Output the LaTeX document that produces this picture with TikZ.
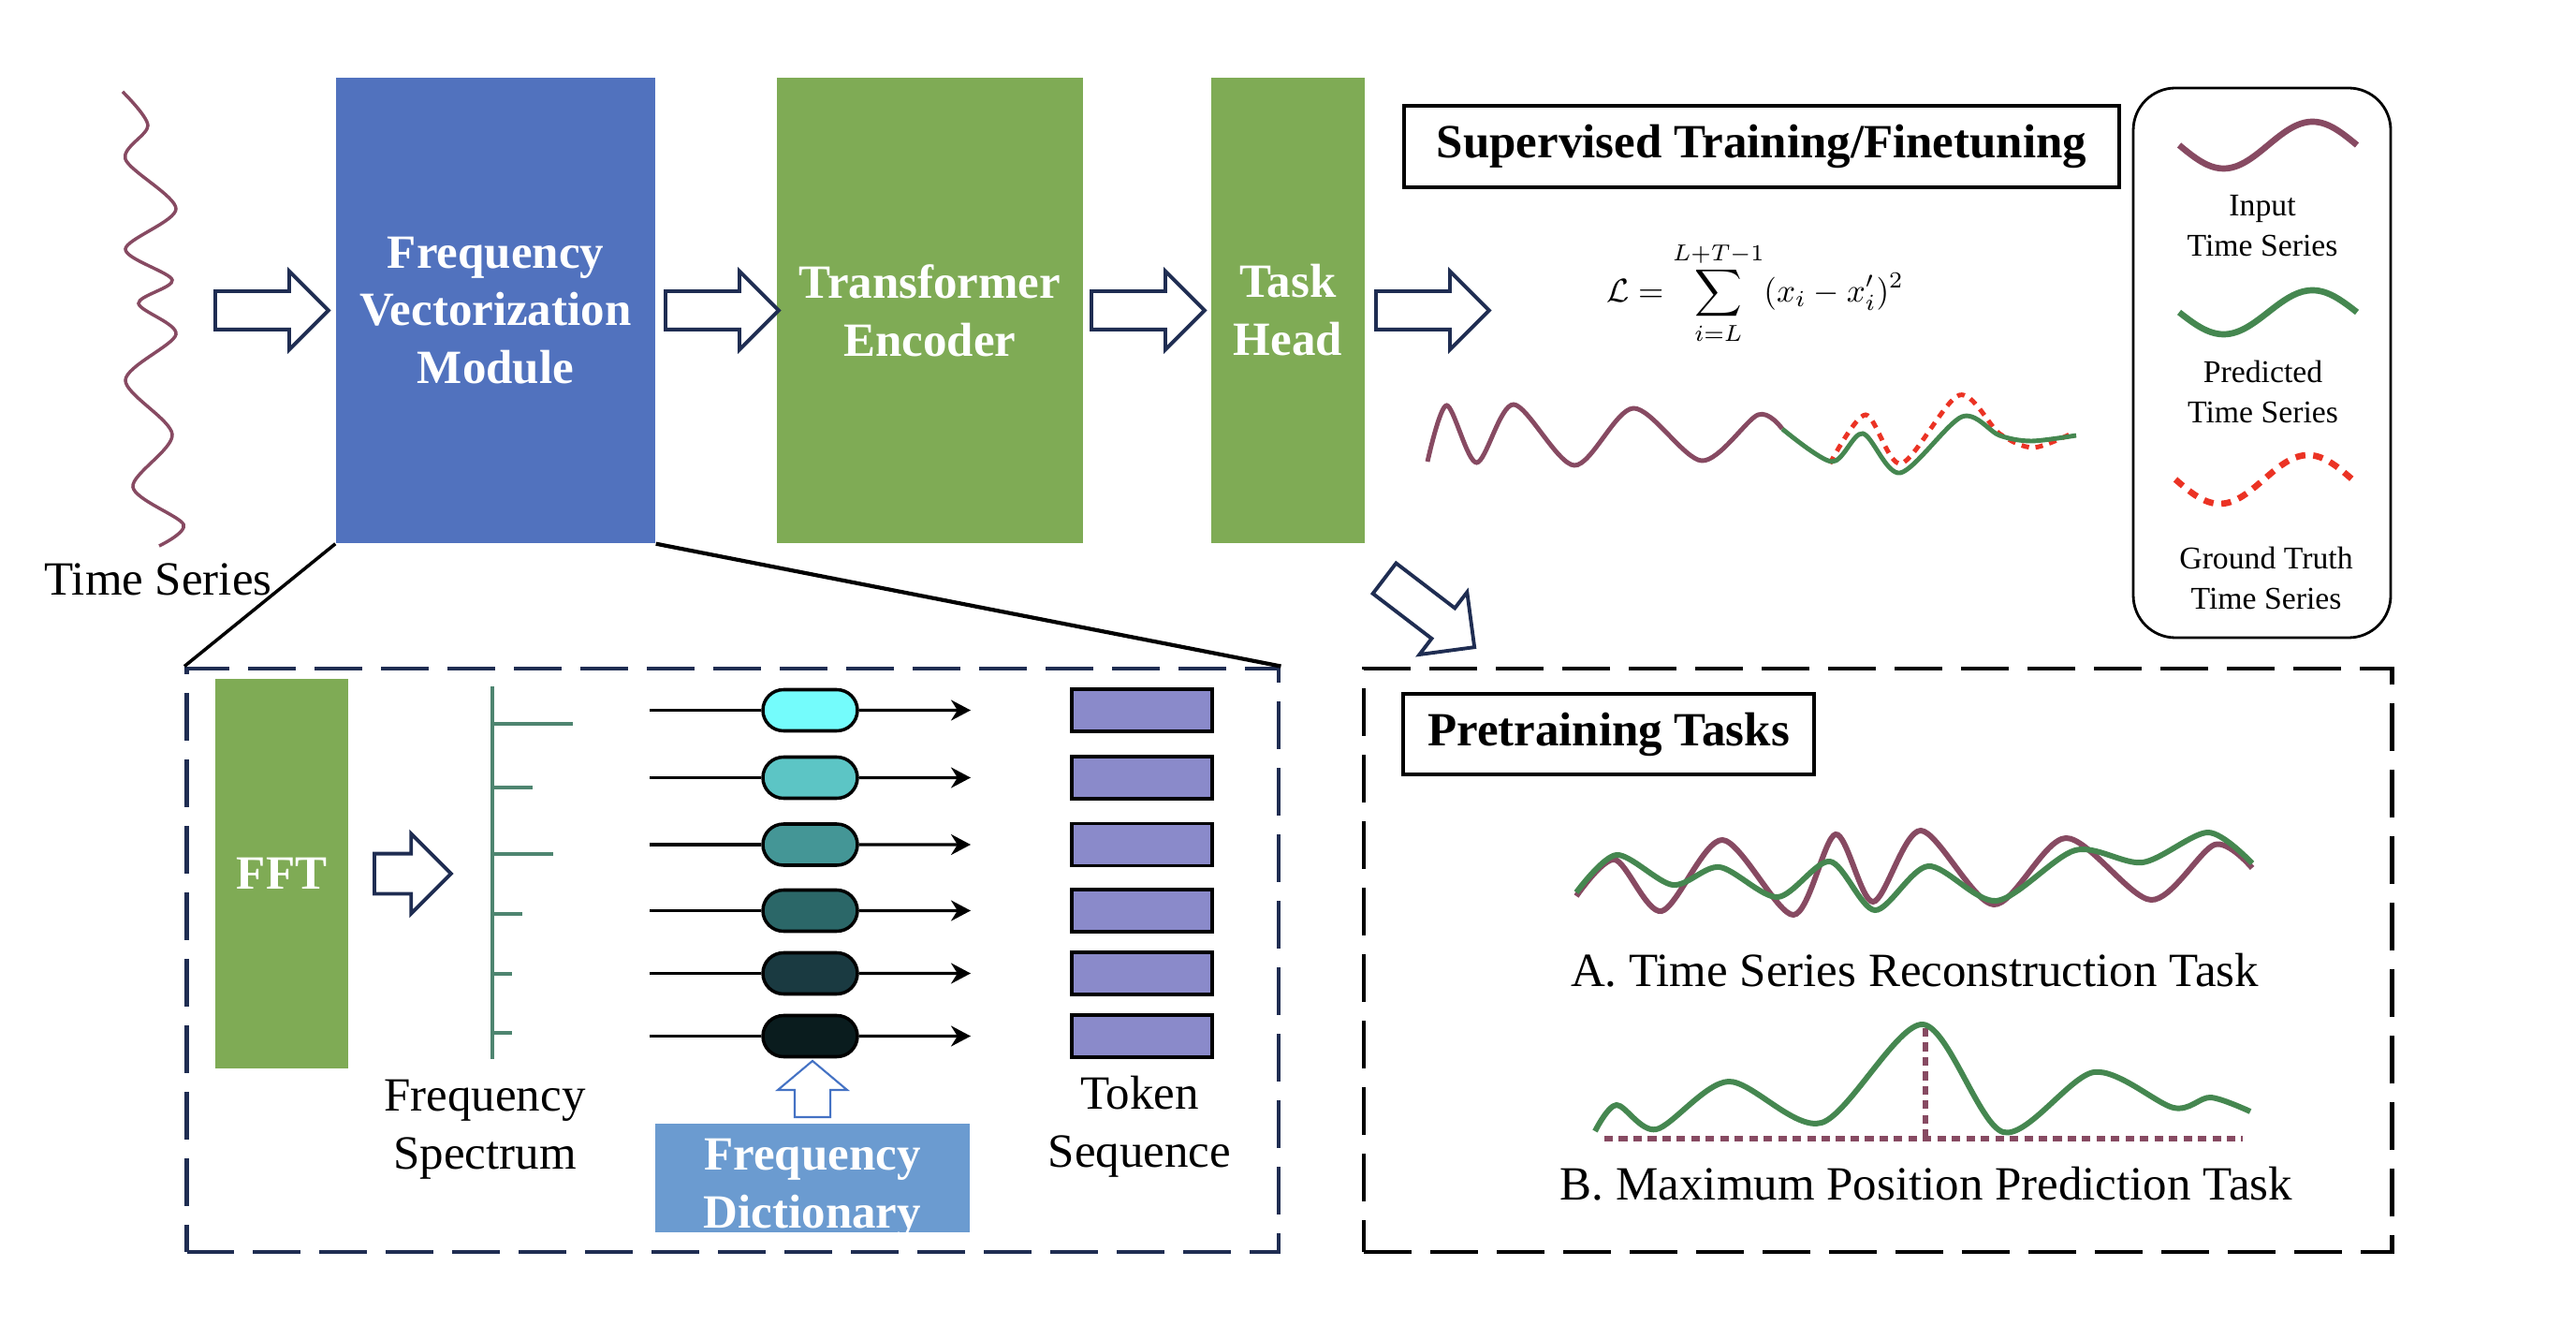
\documentclass[tikz,border=0pt]{standalone}
\usepackage{amsmath}
\usepackage{fontspec}
\setmainfont{Liberation Serif}
\usetikzlibrary{shapes.arrows,shapes.misc,arrows.meta,positioning}

\definecolor{azulfvm}{RGB}{81,114,190}
\definecolor{verdebloco}{RGB}{127,171,85}
\definecolor{azuldic}{RGB}{107,155,208}
\definecolor{marinho}{RGB}{31,45,82}
\definecolor{vinho}{RGB}{135,74,98}
\definecolor{verdeonda}{RGB}{69,135,80}
\definecolor{vermelho}{RGB}{235,51,36}
\definecolor{espectro}{RGB}{78,133,112}
\definecolor{roxo}{RGB}{138,138,202}
\definecolor{azulseta}{RGB}{68,114,196}
\definecolor{tomA}{RGB}{116,252,252}
\definecolor{tomB}{RGB}{92,197,197}
\definecolor{tomC}{RGB}{68,150,150}
\definecolor{tomD}{RGB}{43,103,104}
\definecolor{tomE}{RGB}{26,58,65}
\definecolor{tomF}{RGB}{10,28,30}

\begin{document}
\begin{tikzpicture}[> = {Stealth[length=2.1mm, width=2.2mm]}, font=\fontsize{14.5}{17.6}\selectfont]
            % Estilos
            \tikzstyle{block}=[rectangle, inner sep=0pt, text=white, align=center, font=\fontsize{14.5}{17.6}\selectfont\bfseries]
            \tikzstyle{bigarrow}=[single arrow, draw=marinho, fill=white, line width=1.1pt, inner xsep=0pt, inner ysep=0.185cm, minimum height=1.21cm, minimum width=0.8cm, single arrow head extend=0.215cm, anchor=tail]
            \tikzstyle{smallarrow}=[bigarrow, inner ysep=0.195cm, minimum height=0.82cm, minimum width=0.815cm, single arrow head extend=0.2125cm]
            \tikzstyle{uparrow}=[single arrow, draw=azulseta, fill=white, line width=0.6pt, inner xsep=0pt, inner ysep=0.18cm, minimum height=0.6cm, minimum width=0.72cm, single arrow head extend=0.18cm, single arrow tip angle=100, rotate=90, anchor=tail]
            \tikzstyle{capsule}=[rounded rectangle, draw=black, line width=1pt, minimum width=1.01cm, minimum height=0.44cm, inner sep=0pt]
            \tikzstyle{token}=[rectangle, draw=black, fill=roxo, line width=1.1pt, minimum width=1.5cm, minimum height=0.45cm, inner sep=0pt]
            \tikzstyle{dashbox}=[rectangle, line width=1.4pt, dash pattern=on 14.5pt off 5.7pt, minimum height=6.23cm, inner sep=0pt]
            \tikzstyle{titlebox}=[rectangle, draw=black, inner sep=0pt, font=\fontsize{14.5}{17.6}\selectfont\bfseries]
            \tikzstyle{legtext}=[align=center, font=\fontsize{9.6}{12.3}\selectfont]
            \tikzstyle{twolines}=[align=center]

            \useasboundingbox (0,0) rectangle (27.52,14.14);

            % Série temporal de entrada
            \draw[vinho, line width=1pt] plot[smooth] coordinates {(1.31,13.16) (1.58,12.80) (1.34,12.44) (1.88,11.91) (1.34,11.48) (1.84,11.15) (1.48,10.90) (1.88,10.57) (1.34,10.08) (1.84,9.50) (1.42,8.94) (1.96,8.54) (1.70,8.31)};
            \node (serie) at (1.69,7.95) {Time Series};

            % Blocos principais
            \node[block, fill=azulfvm, minimum width=3.41cm, minimum height=4.97cm] (fvm) at (5.295,10.825) {Frequency\\Vectorization\\Module};
            \node[block, fill=verdebloco, minimum width=3.27cm, minimum height=4.97cm] (enc) at (9.935,10.825) {Transformer\\Encoder};
            \node[block, fill=verdebloco, minimum width=1.64cm, minimum height=4.97cm] (head) at (13.76,10.825) {Task\\Head};

            % Setas grandes
            \node[bigarrow] (a1) at (2.28,10.825) {};
            \node[bigarrow] (a2) at (7.09,10.825) {};
            \node[bigarrow] (a3) at (11.64,10.825) {};
            \node[bigarrow] (a4) at (14.68,10.825) {};
            \node[bigarrow, rotate=-37.4] (a5) at (14.775,7.975) {};

            % Treino supervisionado
            \node[titlebox, line width=1.2pt, minimum width=7.64cm, minimum height=0.87cm] (sup) at (18.82,12.575) {Supervised Training/Finetuning};
            \node (perda) at (18.75,11.01) {\fontsize{10}{12}\selectfont $\displaystyle \mathcal{L} = \sum_{i=L}^{L+T-1} (x_i - x'_i)^2$};
            \draw[vinho, line width=1.4pt] plot[smooth] coordinates {(15.25,9.21) (15.455,9.81) (15.775,9.20) (16.17,9.82) (16.82,9.17) (17.45,9.78) (18.18,9.22) (18.78,9.71) (19.04,9.56)};
            \draw[vermelho, line width=1.4pt, dash pattern=on 2.3pt off 2pt] plot[smooth] coordinates {(19.55,9.19) (19.93,9.71) (20.31,9.19) (20.93,9.92) (21.36,9.51) (21.72,9.36) (22.13,9.51)};
            \draw[verdeonda, line width=1.4pt] plot[smooth] coordinates {(19.04,9.56) (19.57,9.21) (19.90,9.51) (20.30,9.09) (20.96,9.69) (21.36,9.49) (21.70,9.43) (22.18,9.49)};

            % Legenda
            \node[draw=black, line width=0.8pt, rounded corners=0.45cm, minimum width=2.75cm, minimum height=5.87cm] (legenda) at (24.165,10.265) {};
            \draw[vinho, line width=1.9pt] plot[domain=0:360, samples=40, smooth, variable=\t] ({23.28+\t/360*1.9}, {12.59-0.25*sin(\t)});
            \node[legtext] (leg input) at (24.17,11.725) {Input\\Time Series};
            \draw[verdeonda, line width=1.9pt] plot[domain=0:360, samples=40, smooth, variable=\t] ({23.28+\t/360*1.9}, {10.805-0.235*sin(\t)});
            \node[legtext] (leg pred) at (24.175,9.955) {Predicted\\Time Series};
            \draw[vermelho, line width=1.9pt, dash pattern=on 3pt off 2.4pt] plot[domain=0:360, samples=40, smooth, variable=\t] ({23.24+\t/360*1.89}, {9.02-0.26*sin(\t)});
            \node[legtext] (leg truth) at (24.21,7.965) {Ground Truth\\Time Series};

            % Caixa do módulo de vetorização
            \node[dashbox, draw=marinho, minimum width=11.665cm] (detalhe) at (7.8275,3.885) {};
            \draw[black, line width=1pt] (fvm.south west) -- (detalhe.north west);
            \draw[black, line width=1.2pt] (fvm.south east) -- (detalhe.north east);

            \node[block, fill=verdebloco, minimum width=1.42cm, minimum height=4.16cm] (fft) at (3.01,4.81) {FFT};
            \node[smallarrow] (a6) at (3.98,4.81) {};

            % Espectro
            \coordinate (spec top) at (5.256,6.81);
            \coordinate (spec bottom) at (5.256,2.83);
            \draw[espectro, line width=1.2pt] (spec top) -- (spec bottom);
            \draw[espectro, line width=1.2pt] (5.256,6.41) -- (6.12,6.41);
            \draw[espectro, line width=1.2pt] (5.256,5.73) -- (5.69,5.73);
            \draw[espectro, line width=1.2pt] (5.256,5.02) -- (5.91,5.02);
            \draw[espectro, line width=1.2pt] (5.256,4.38) -- (5.58,4.38);
            \draw[espectro, line width=1.2pt] (5.256,3.74) -- (5.47,3.74);
            \draw[espectro, line width=1.2pt] (5.256,3.11) -- (5.47,3.11);
            \node[twolines] (espec) at (5.18,2.08) {Frequency\\Spectrum};

            % Dicionário de frequências
            \node[capsule, fill=tomA] (c1) at (8.655,6.555) {};
            \node[capsule, fill=tomB] (c2) at (8.655,5.835) {};
            \node[capsule, fill=tomC] (c3) at (8.655,5.12) {};
            \node[capsule, fill=tomD] (c4) at (8.655,4.415) {};
            \node[capsule, fill=tomE] (c5) at (8.655,3.745) {};
            \node[capsule, fill=tomF] (c6) at (8.655,3.075) {};

            \coordinate (i1) at (6.94,6.555);  \coordinate (o1) at (10.37,6.555);
            \coordinate (i2) at (6.94,5.835);  \coordinate (o2) at (10.37,5.835);
            \coordinate (i3) at (6.94,5.12);   \coordinate (o3) at (10.37,5.12);
            \coordinate (i4) at (6.94,4.415);  \coordinate (o4) at (10.37,4.415);
            \coordinate (i5) at (6.94,3.745);  \coordinate (o5) at (10.37,3.745);
            \coordinate (i6) at (6.94,3.075);  \coordinate (o6) at (10.37,3.075);

            \draw[line width=0.9pt] (i1) -- (c1);
            \draw[line width=0.9pt] (i2) -- (c2);
            \draw[line width=0.9pt] (i3) -- (c3);
            \draw[line width=0.9pt] (i4) -- (c4);
            \draw[line width=0.9pt] (i5) -- (c5);
            \draw[line width=0.9pt] (i6) -- (c6);
            \draw[->, line width=0.9pt] (c1) -- (o1);
            \draw[->, line width=0.9pt] (c2) -- (o2);
            \draw[->, line width=0.9pt] (c3) -- (o3);
            \draw[->, line width=0.9pt] (c4) -- (o4);
            \draw[->, line width=0.9pt] (c5) -- (o5);
            \draw[->, line width=0.9pt] (c6) -- (o6);

            \node[block, fill=azuldic, minimum width=3.36cm, minimum height=1.16cm] (dic) at (8.68,1.56) {};
            \node[block] (dic text) at (8.68,1.45) {Frequency\\Dictionary};
            \node[uparrow] (a7) at (8.68,2.20) {};

            % Tokens
            \node[token] (t1) at (12.20,6.555) {};
            \node[token] (t2) at (12.20,5.835) {};
            \node[token] (t3) at (12.20,5.12) {};
            \node[token] (t4) at (12.20,4.415) {};
            \node[token] (t5) at (12.20,3.745) {};
            \node[token] (t6) at (12.20,3.075) {};
            \node[twolines] (seq) at (12.175,2.11) {Token\\Sequence};

            % Tarefas de pré-treino
            \node[dashbox, draw=black, minimum width=10.98cm] (pretreino) at (20.06,3.885) {};
            \node[titlebox, line width=0.9pt, minimum width=4.39cm, minimum height=0.86cm] (pre) at (17.185,6.30) {Pretraining Tasks};

            \draw[vinho, line width=1.7pt] plot[smooth] coordinates {(16.84,4.57) (17.25,4.96) (17.75,4.41) (18.40,5.17) (19.16,4.37) (19.61,5.23) (20.01,4.51) (20.52,5.27) (21.30,4.48) (22.07,5.19) (22.98,4.53) (23.66,5.12) (24.06,4.87)};
            \draw[verdeonda, line width=1.7pt] plot[smooth] coordinates {(16.84,4.61) (17.27,5.01) (17.87,4.69) (18.37,4.88) (18.99,4.56) (19.55,4.94) (20.03,4.42) (20.60,4.89) (21.33,4.52) (22.17,5.06) (22.89,4.93) (23.59,5.25) (24.06,4.92)};
            \node (tarefa a) at (20.455,3.775) {A. Time Series Reconstruction Task};

            \draw[vinho, line width=1.9pt, dash pattern=on 2.6pt off 1.8pt] (17.14,1.98) -- (23.96,1.98);
            \draw[vinho, line width=1.9pt, dash pattern=on 2.6pt off 1.8pt] (20.57,3.16) -- (20.57,1.98);
            \draw[verdeonda, line width=1.7pt] plot[smooth] coordinates {(17.04,2.06) (17.27,2.34) (17.695,2.08) (18.466,2.59) (19.46,2.15) (20.54,3.20) (21.40,2.05) (22.37,2.69) (23.22,2.31) (23.615,2.42) (24.04,2.27)};
            \node (tarefa b) at (20.58,1.50) {B. Maximum Position Prediction Task};
        \end{tikzpicture}
\end{document}
